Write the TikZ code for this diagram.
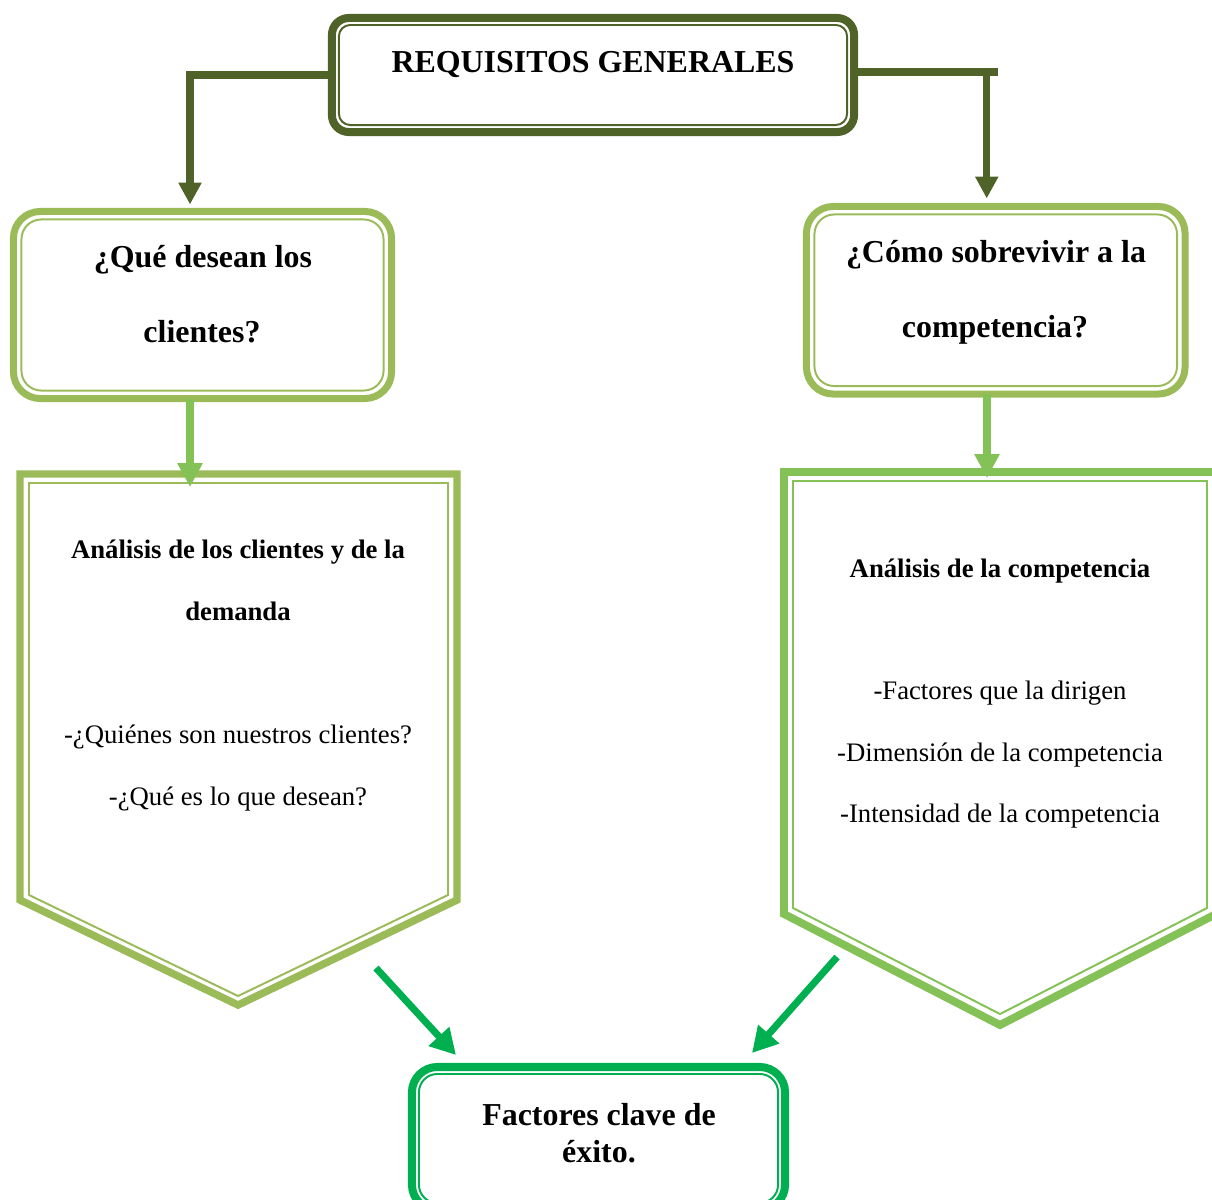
\documentclass[tikz,border=0pt]{standalone}
\usepackage{fontspec}
\setmainfont{Liberation Serif}
\usetikzlibrary{arrows.meta,calc}
\definecolor{colOlive}{HTML}{4F6228}
\definecolor{colLG}{HTML}{9BBB59}
\definecolor{colBG}{HTML}{84C156}
\definecolor{colDG}{HTML}{00B050}
\begin{document}
\begin{tikzpicture}[x=0.025cm,y=-0.025cm,
  box/.style={draw, rectangle, inner sep=0pt, outer sep=0pt},
  innerline/.style={line width=1.4pt},
  conn/.style={line width=5pt},
  bigtxt/.style={font=\fontsize{22.7}{27}\selectfont\bfseries, anchor=base, inner sep=0pt},
  midtxt/.style={font=\fontsize{19}{23}\selectfont\bfseries, anchor=base, inner sep=0pt},
  regtxt/.style={font=\fontsize{19}{23}\selectfont, anchor=base, inner sep=0pt},
]
\useasboundingbox (0,0) rectangle (1212,1199);
\clip (0,0) rectangle (1212,1199);

% pentagons
\draw[colLG, line width=5.3pt] (20,474) -- (457,474) -- (457,900) -- (238,1005) -- (20,900) -- cycle;
\draw[colLG, innerline] (29,483) -- (448,483) -- (448,895) -- (238,996) -- (29,895) -- cycle;
\draw[colBG, line width=5.6pt] (784,472) -- (1216,472) -- (1216,914) -- (1000,1025) -- (784,914) -- cycle;
\draw[colBG, innerline] (793,481) -- (1207,481) -- (1207,908) -- (1000,1014) -- (793,908) -- cycle;
\coordinate (p1top) at (190,487);
\coordinate (p2top) at (987,478);

% top box
\node[box, draw=colOlive, line width=5.7pt, rounded corners=12pt, minimum width=13.05cm, minimum height=2.85cm] (top) at (593,75) {};
\draw[colOlive, innerline, rounded corners=8pt] ($(top.north west)+(7,7)$) rectangle ($(top.south east)+(-7,-7)$);
\node[bigtxt] (tTop) at (593,72) {REQUISITOS GENERALES};

% question boxes
\node[box, draw=colLG, line width=5pt, rounded corners=19pt, minimum width=9.45cm, minimum height=4.675cm] (q1) at (202.5,305) {};
\draw[colLG, innerline, rounded corners=14pt] ($(q1.north west)+(8,8)$) rectangle ($(q1.south east)+(-8,-8)$);
\node[bigtxt] (q1a) at (203,267) {¿Qué desean los};
\node[bigtxt] (q1b) at (202,342) {clientes?};

\node[box, draw=colLG, line width=5pt, rounded corners=19pt, minimum width=9.4625cm, minimum height=4.6875cm] (q2) at (995.75,300.25) {};
\draw[colLG, innerline, rounded corners=14pt] ($(q2.north west)+(8,8)$) rectangle ($(q2.south east)+(-8,-8)$);
\node[bigtxt] (q2a) at (996,262) {¿Cómo sobrevivir a la};
\node[bigtxt] (q2b) at (995,337) {competencia?};

% top connectors
\draw[conn, colOlive, -{Triangle[length=15.6pt,width=15.6pt]}] (top.west) -| ($(q1.north)+(-12.5,-7)$);
\draw[conn, colOlive] ($(top.east)+(0,-3)$) -- ++(144,0);
\draw[conn, colOlive, -{Triangle[length=15.6pt,width=15.6pt]}] ($(top.east)+(0,-3)$) -| ($(q2.north)+(-9,-8)$);

% question -> analysis
\draw[conn, colBG, -{Triangle[length=17pt,width=17pt]}] (q1.south -| p1top) -- (p1top);
\draw[conn, colBG, -{Triangle[length=17pt,width=17pt]}] (q2.south -| p2top) -- (p2top);

% analysis texts
\node[midtxt] (la1) at (238,558) {Análisis de los clientes y de la};
\node[midtxt] (la2) at (238,620) {demanda};
\node[regtxt] (la3) at (238,743) {-¿Quiénes son nuestros clientes?};
\node[regtxt] (la4) at (238,805) {-¿Qué es lo que desean?};

\node[midtxt] (ra1) at (1000,577) {Análisis de la competencia};
\node[regtxt] (ra2) at (1000,699) {-Factores que la dirigen};
\node[regtxt] (ra3) at (1000,761) {-Dimensión de la competencia};
\node[regtxt] (ra4) at (1000,822) {-Intensidad de la competencia};

% bottom box
\node[box, draw=colDG, line width=5.7pt, rounded corners=18pt, minimum width=9.325cm, minimum height=3.575cm] (bot) at (598.5,1138.5) {};
\draw[colDG, innerline, rounded corners=13pt] ($(bot.north west)+(7,7)$) rectangle ($(bot.south east)+(-7,-7)$);
\node[bigtxt] (b1) at (599,1125) {Factores clave de};
\node[bigtxt] (b2) at (599,1162) {éxito.};

% green arrows
\coordinate (gl) at (376,968);
\coordinate (gr) at (837,957);
\coordinate (tl) at (456,1055);
\coordinate (tr) at (752,1053);
\draw[conn, colDG, -{Triangle[length=18pt,width=19pt]}] (gl) -- (tl);
\draw[conn, colDG, -{Triangle[length=18pt,width=19pt]}] (gr) -- (tr);
\end{tikzpicture}
\end{document}
